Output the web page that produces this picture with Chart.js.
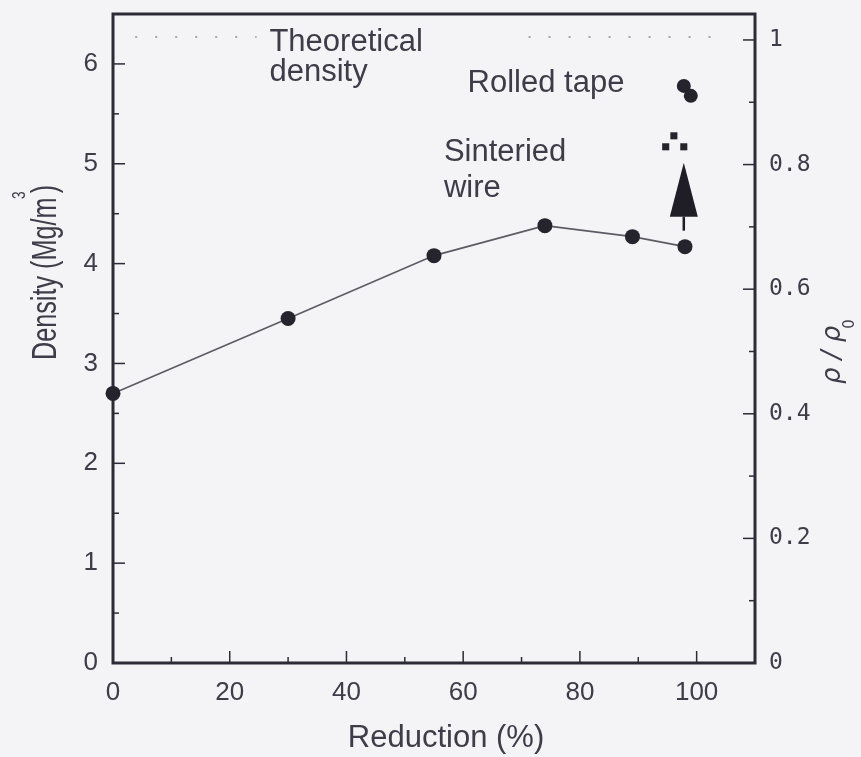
<!DOCTYPE html>
<html>
<head>
<meta charset="utf-8">
<script src="https://cdn.jsdelivr.net/npm/chart.js@4"></script>
<style>
  html, body { margin: 0; padding: 0; background: #f4f3f6; }
  canvas { display: block; }
</style>
</head>
<body>
<canvas id="chart" width="861" height="757"></canvas>
<script>
// Sintered wire: density against reduction
const reduction = [0, 30, 55, 74, 89, 98];
const density = [2.70, 3.45, 4.08, 4.38, 4.27, 4.17];

// Rolled tape
const tapeReduction = [97.8, 99.0];
const tapeDensity = [5.78, 5.68];

// Small square marks above the arrow
const squareReduction = [94.7, 96.1, 97.8];
const squareDensity = [5.17, 5.28, 5.17];

// Theoretical density (Mg/m3) and the two dotted spans of reduction
const rho0 = 6.24;
const theoreticalDensity = 6.27;
const theoreticalStart = [3.8, 71.2];
const theoreticalEnd = [24.6, 105];

// Arrow from the last wire point up towards the tape
const arrowReduction = 97.8;
const arrowFrom = 4.33;
const arrowHeadBase = 4.47;
const arrowTip = 5.01;

// Tick values
const xTicks = [0, 20, 40, 60, 80, 100];
const xMinor = [10, 30, 50, 70, 90];
const yTicks = [0, 1, 2, 3, 4, 5, 6];
const yMinor = [0.5, 1.5, 2.5, 3.5, 4.5, 5.5];
const ratioTicks = [0, 0.2, 0.4, 0.6, 0.8, 1];
const ratioMinor = [0.1, 0.3, 0.5, 0.7, 0.9];

const INK = '#2c2b36';
const TEXT = '#3d3c48';
const SANS = '"Liberation Sans", Arial, sans-serif';

const pts = (xs, ys) => xs.map((x, i) => ({ x, y: ys[i] }));

const theoreticalData = [];
theoreticalStart.forEach((s, i) => {
  if (i > 0) theoreticalData.push({ x: (theoreticalEnd[i - 1] + s) / 2, y: null });
  theoreticalData.push({ x: s, y: theoreticalDensity });
  theoreticalData.push({ x: theoreticalEnd[i], y: theoreticalDensity });
});

const framePlugin = {
  id: 'frame',
  beforeDraw(chart) {
    const ctx = chart.ctx;
    ctx.save();
    ctx.fillStyle = '#f4f3f6';
    ctx.fillRect(0, 0, chart.width, chart.height);
    ctx.restore();
  },
  beforeDatasetsDraw(chart) {
    const { ctx, chartArea: a, scales } = chart;
    ctx.save();
    ctx.strokeStyle = INK;
    ctx.lineWidth = 1.5;
    const tick = (x1, y1, x2, y2) => { ctx.beginPath(); ctx.moveTo(x1, y1); ctx.lineTo(x2, y2); ctx.stroke(); };
    xTicks.forEach(v => { const p = scales.x.getPixelForValue(v); tick(p, a.bottom, p, a.bottom - 12); });
    xMinor.forEach(v => { const p = scales.x.getPixelForValue(v); tick(p, a.bottom, p, a.bottom - 6); });
    yTicks.forEach(v => { const p = scales.y.getPixelForValue(v); tick(a.left, p, a.left + 12, p); });
    yMinor.forEach(v => { const p = scales.y.getPixelForValue(v); tick(a.left, p, a.left + 6, p); });
    ratioTicks.forEach(v => { const p = scales.y2.getPixelForValue(v); tick(a.right, p, a.right - 12, p); });
    ratioMinor.forEach(v => { const p = scales.y2.getPixelForValue(v); tick(a.right, p, a.right - 6, p); });
    ctx.lineWidth = 3;
    ctx.strokeRect(a.left, a.top, a.right - a.left, a.bottom - a.top);
    ctx.restore();
  },
  afterDatasetsDraw(chart) {
    const { ctx, scales } = chart;
    const X = v => scales.x.getPixelForValue(v);
    const Y = v => scales.y.getPixelForValue(v);
    ctx.save();

    // arrow
    const ax = X(arrowReduction);
    ctx.strokeStyle = '#1f1e27';
    ctx.fillStyle = '#1f1e27';
    ctx.lineWidth = 2.5;
    ctx.beginPath(); ctx.moveTo(ax, Y(arrowFrom)); ctx.lineTo(ax, Y(arrowHeadBase)); ctx.stroke();
    ctx.beginPath();
    ctx.moveTo(ax - 14, Y(arrowHeadBase));
    ctx.lineTo(ax + 14, Y(arrowHeadBase));
    ctx.lineTo(ax, Y(arrowTip));
    ctx.closePath(); ctx.fill();

    // annotations in the plot
    ctx.fillStyle = TEXT;
    ctx.font = '31px ' + SANS;
    ctx.textAlign = 'left';
    ctx.textBaseline = 'alphabetic';
    ctx.fillText('Theoretical', X(26.8), Y(6.13));
    ctx.fillText('density', X(26.8), Y(5.83));
    ctx.fillText('Rolled tape', X(60.75), Y(5.72));
    ctx.fillText('Sinteried', X(56.7), Y(5.03));
    ctx.fillText('wire', X(56.7), Y(4.67));

    // x-axis title
    ctx.textAlign = 'center';
    ctx.fillText('Reduction (%)', 446, 747);

    // left axis title, rotated with superscript
    ctx.save();
    ctx.translate(56, 360);
    ctx.rotate(-Math.PI / 2);
    ctx.scale(0.72, 1);
    ctx.textAlign = 'left';
    ctx.font = '35px ' + SANS;
    const main = 'Density (Mg/m';
    const w = ctx.measureText(main).width;
    ctx.fillText(main, 0, 0);
    ctx.fillText(')', w + 6, 0);
    ctx.font = '19px ' + SANS;
    ctx.fillText('3', w - 2, -31);
    ctx.restore();

    // right axis title
    ctx.save();
    ctx.translate(840, 384);
    ctx.rotate(-Math.PI / 2);
    ctx.textAlign = 'left';
    ctx.font = 'italic 26px "DejaVu Sans", sans-serif';
    const a1 = 'ρ / ρ';
    const w1 = ctx.measureText(a1).width;
    ctx.fillText(a1, 0, 0);
    ctx.font = '15px "DejaVu Sans", sans-serif';
    ctx.fillText('0', w1 - 3, 14);
    ctx.restore();

    ctx.restore();
  }
};

const noEdgePadding = s => { s.paddingTop = 0; s.paddingBottom = 0; };

new Chart(document.getElementById('chart'), {
  type: 'scatter',
  data: {
    datasets: [
      {
        label: 'Sintered wire',
        data: pts(reduction, density),
        showLine: true,
        borderColor: '#5c5b64',
        borderWidth: 1.6,
        pointRadius: 7.5,
        pointBackgroundColor: '#25242d',
        pointBorderWidth: 0,
        clip: false
      },
      {
        label: 'Rolled tape',
        data: pts(tapeReduction, tapeDensity),
        showLine: false,
        pointRadius: 7,
        pointBackgroundColor: '#25242d',
        pointBorderWidth: 0,
        clip: false
      },
      {
        label: 'Squares',
        data: pts(squareReduction, squareDensity),
        showLine: false,
        pointStyle: 'rect',
        pointRadius: 5,
        pointBackgroundColor: '#25242d',
        pointBorderWidth: 0,
        clip: false
      },
      {
        label: 'Theoretical density',
        data: theoreticalData,
        showLine: true,
        spanGaps: false,
        borderColor: '#8c8b94',
        borderWidth: 1.5,
        borderDash: [2, 18],
        pointRadius: 0,
        clip: false
      }
    ]
  },
  options: {
    responsive: false,
    animation: false,
    events: [],
    layout: { padding: { top: 14, left: 0, right: 0, bottom: 0 } },
    plugins: { legend: { display: false }, tooltip: { enabled: false } },
    scales: {
      x: {
        type: 'linear', position: 'bottom', min: 0, max: 110,
        afterBuildTicks: s => { s.ticks = xTicks.map(v => ({ value: v })); },
        afterFit: s => { s.height = 94; s.paddingLeft = 0; s.paddingRight = 0; },
        grid: { display: false, drawTicks: false },
        border: { display: false },
        ticks: { color: TEXT, font: { family: SANS, size: 26 }, padding: 14, maxRotation: 0, autoSkip: false }
      },
      y: {
        type: 'linear', position: 'left', min: 0, max: 6.5,
        afterBuildTicks: s => { s.ticks = yTicks.map(v => ({ value: v })); },
        afterFit: s => { s.width = 113; noEdgePadding(s); },
        grid: { display: false, drawTicks: false },
        border: { display: false },
        ticks: { color: TEXT, font: { family: SANS, size: 26 }, padding: 15, autoSkip: false }
      },
      y2: {
        type: 'linear', position: 'right', min: 0, max: 6.5 / rho0,
        afterBuildTicks: s => { s.ticks = ratioTicks.map(v => ({ value: v })); },
        afterFit: s => { s.width = 106; noEdgePadding(s); },
        grid: { display: false, drawTicks: false },
        border: { display: false },
        ticks: {
          color: TEXT, font: { family: '"DejaVu Sans Mono", monospace', size: 23 }, padding: 14, autoSkip: false,
          callback: v => (v === 0 || v === 1) ? String(v) : v.toFixed(1)
        }
      }
    }
  },
  plugins: [framePlugin]
});
</script>
</body>
</html>
